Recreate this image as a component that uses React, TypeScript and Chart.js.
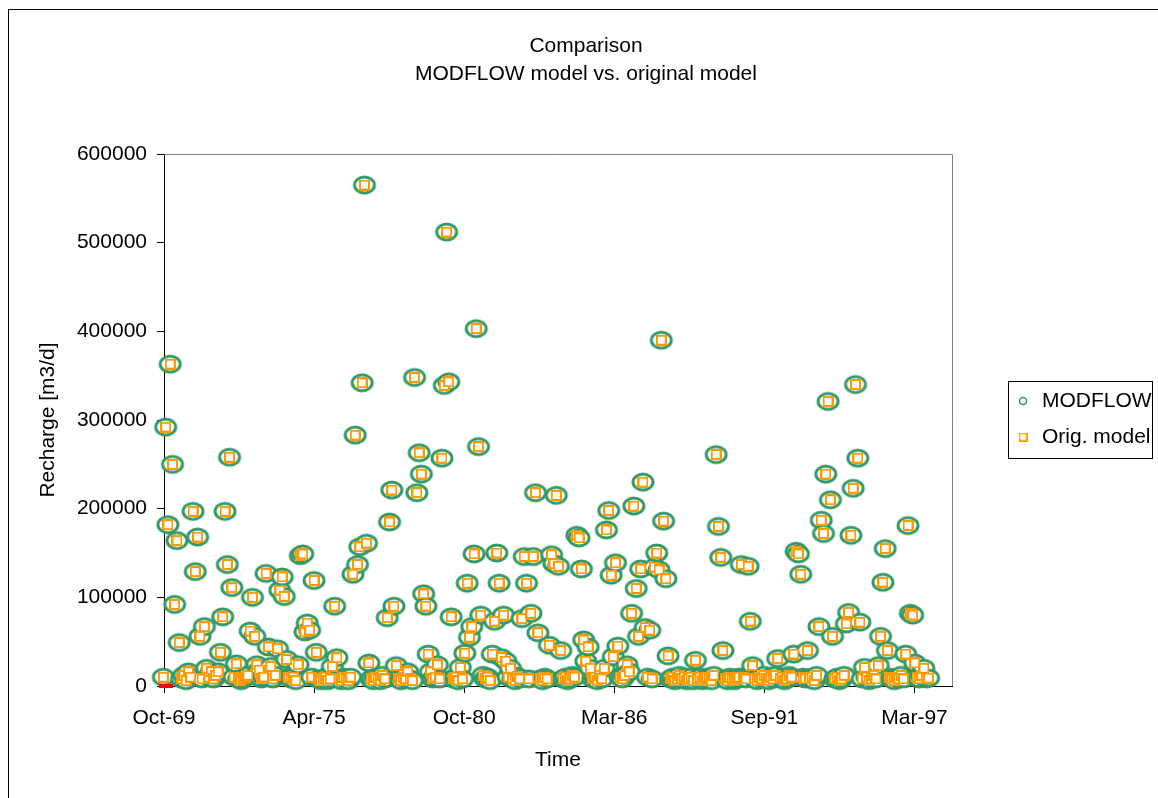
import React, { useEffect, useRef } from 'react';
import { Chart, registerables } from 'chart.js';

Chart.register(...registerables);

// Monthly recharge series, first value is October 1969 (thousand m3/d)
const FIRST_YEAR = 1969;
const FIRST_MONTH = 10;

const modflowKm3d = [
  10, 292, 182, 363, 250, 92, 164, 49, 8, 12, 6, 16,
  10, 197, 129, 168, 56, 8, 67, 20, 10, 16, 8, 12,
  16, 38, 78, 197, 137, 258, 111, 10, 25, 8, 6, 8,
  10, 12, 62, 100, 56, 24, 18, 8, 10, 127, 44, 22,
  8, 12, 42, 108, 123, 101, 30, 10, 8, 10, 6, 24,
  147, 149, 61, 71, 63, 10, 119, 38, 8, 6, 8, 10,
  6, 8, 22, 90, 32, 8, 6, 10, 8, 6, 10, 126,
  283, 137, 157, 342, 565, 161, 26, 8, 6, 10, 8, 6,
  12, 8, 77, 185, 221, 90, 23, 8, 6, 10, 8, 16,
  8, 6, 348, 218, 263, 239, 104, 90, 36, 16, 8, 10,
  24, 8, 257, 339, 512, 343, 78, 8, 10, 6, 21, 8,
  37, 116, 55, 67, 149, 403, 270, 80, 12, 8, 10, 6,
  36, 73, 150, 116, 32, 80, 28, 10, 20, 8, 6, 11,
  8, 76, 146, 116, 8, 82, 146, 218, 60, 8, 6, 10,
  8, 46, 148, 138, 215, 135, 40, 8, 10, 6, 8, 12,
  10, 170, 167, 132, 52, 28, 44, 20, 8, 10, 6, 12,
  8, 20, 176, 198, 125, 33, 139, 45, 10, 8, 12, 24,
  16, 82, 203, 110, 56, 132, 230, 66, 10, 63, 8, 134,
  150, 131, 390, 186, 121, 34, 8, 10, 6, 8, 12, 8,
  10, 6, 8, 10, 6, 29, 8, 10, 6, 8, 10, 8,
  6, 12, 261, 180, 145, 40, 8, 6, 10, 8, 6, 8,
  10, 137, 10, 8, 135, 73, 23, 8, 6, 10, 8, 12,
  8, 6, 10, 8, 12, 31, 8, 10, 6, 8, 12, 10,
  36, 152, 149, 126, 10, 8, 40, 8, 10, 6, 12, 67,
  187, 172, 239, 321, 210, 56, 8, 10, 6, 8, 12, 70,
  83, 170, 223, 340, 257, 72, 8, 21, 10, 6, 8, 12,
  8, 23, 56, 117, 155, 40, 10, 8, 6, 10, 8, 12,
  8, 36, 181, 82, 80, 26, 10, 8, 12, 20, 8, 9,
];

// The original model reproduces the MODFLOW recharge month for month
const origModelKm3d = modflowKm3d.slice();

// Short red stub lying on the zero line at the start of the record (day serials)
const zeroStubSerials = [25433, 25620];

// Axis ticks (day serials counted from 1899-12-30)
const xTickSerials = [25500, 27500, 29500, 31500, 33500, 35500];
const xTickLabels = ['Oct-69', 'Apr-75', 'Oct-80', 'Mar-86', 'Sep-91', 'Mar-97'];
const yTickValues = [0, 100000, 200000, 300000, 400000, 500000, 600000];

const titleLines = ['Comparison', 'MODFLOW model vs. original model'];
const seriesNames = ['MODFLOW', 'Orig. model'];

const FONT = '"Liberation Sans", Arial, sans-serif';
const GREEN = '#339966';
const ORANGE = '#ff9900';

const EPOCH = Date.UTC(1899, 11, 30);
const monthSerial = (i: number) =>
  (Date.UTC(FIRST_YEAR, FIRST_MONTH - 1 + i, 15) - EPOCH) / 86400000;

function ellipseMarker(w: number, h: number, rx: number, ry: number, lw: number) {
  const c = document.createElement('canvas');
  c.width = w;
  c.height = h;
  const g = c.getContext('2d')!;
  g.beginPath();
  g.ellipse(w / 2, h / 2, rx, ry, 0, 0, Math.PI * 2);
  g.fillStyle = '#ffffff';
  g.fill();
  g.lineWidth = lw;
  g.strokeStyle = GREEN;
  g.stroke();
  return c;
}

function squareMarker(size: number, lw: number) {
  const c = document.createElement('canvas');
  c.width = size;
  c.height = size;
  const g = c.getContext('2d')!;
  g.fillStyle = '#ffffff';
  g.fillRect(lw / 2, lw / 2, size - lw, size - lw);
  g.lineWidth = lw;
  g.strokeStyle = ORANGE;
  g.strokeRect(lw / 2, lw / 2, size - lw, size - lw);
  return c;
}

export default function App() {
  const canvasRef = useRef<HTMLCanvasElement | null>(null);

  useEffect(() => {
    const canvas = canvasRef.current;
    if (!canvas) return;

    const circleImg = ellipseMarker(26, 22, 10, 8, 3);
    const squareImg = squareMarker(11, 2);
    const legendCircle = ellipseMarker(10, 10, 3.5, 3.5, 1.6);
    const legendSquare = squareMarker(9, 1.6);

    const decorations = {
      id: 'decorations',
      beforeDraw(chart: any) {
        const { ctx, width, height } = chart;
        ctx.save();
        ctx.fillStyle = '#ffffff';
        ctx.fillRect(0, 0, width, height);
        ctx.strokeStyle = '#000000';
        ctx.lineWidth = 1;
        ctx.strokeRect(8.5, 9.5, width + 10, height + 10);
        ctx.fillStyle = '#000000';
        ctx.font = `21px ${FONT}`;
        ctx.textAlign = 'center';
        ctx.textBaseline = 'middle';
        ctx.fillText(titleLines[0], 586, 46);
        ctx.fillText(titleLines[1], 586, 74);
        ctx.restore();
      },
      beforeDatasetsDraw(chart: any) {
        const { ctx, chartArea } = chart;
        ctx.save();
        ctx.strokeStyle = '#808080';
        ctx.lineWidth = 1;
        ctx.beginPath();
        ctx.moveTo(chartArea.left, chartArea.top + 0.5);
        ctx.lineTo(chartArea.right + 0.5, chartArea.top + 0.5);
        ctx.lineTo(chartArea.right + 0.5, chartArea.bottom);
        ctx.stroke();
        ctx.restore();
      },
      afterDraw(chart: any) {
        const { ctx } = chart;
        ctx.save();
        ctx.strokeStyle = '#000000';
        ctx.lineWidth = 1;
        ctx.strokeRect(1008.5, 381.5, 144, 77);
        ctx.drawImage(legendCircle, 1023 - 5, 401 - 5);
        ctx.drawImage(legendSquare, 1023 - 4.5, 437 - 4.5);
        ctx.fillStyle = '#000000';
        ctx.font = `21px ${FONT}`;
        ctx.textAlign = 'left';
        ctx.textBaseline = 'middle';
        ctx.fillText(seriesNames[0], 1042, 401);
        ctx.fillText(seriesNames[1], 1042, 437);
        ctx.restore();
      },
    };

    const chart = new Chart(canvas, {
      type: 'scatter',
      data: {
        datasets: [
          {
            type: 'line',
            label: 'zero',
            data: zeroStubSerials.map((x) => ({ x, y: 0 })),
            borderColor: '#ff0000',
            borderWidth: 4,
            pointRadius: 0,
            clip: false,
          } as any,
          {
            label: seriesNames[1],
            data: origModelKm3d.map((v, i) => ({ x: monthSerial(i), y: v * 1000 })),
            pointStyle: squareImg,
            pointRadius: 5,
            clip: false,
          },
          {
            label: seriesNames[0],
            data: modflowKm3d.map((v, i) => ({ x: monthSerial(i), y: v * 1000 })),
            pointStyle: circleImg,
            pointRadius: 10,
            clip: false,
          },
        ],
      },
      options: {
        responsive: false,
        animation: false,
        devicePixelRatio: 1,
        layout: { padding: { top: 154, right: 206, left: 0, bottom: 0 } },
        plugins: {
          legend: { display: false },
          tooltip: { enabled: false },
          title: { display: false },
        },
        scales: {
          x: {
            type: 'linear',
            min: 25500,
            max: 36000,
            afterBuildTicks: (scale: any) => {
              scale.ticks = xTickSerials.map((value) => ({ value }));
            },
            afterFit: (scale: any) => {
              scale.height = 112;
            },
            ticks: {
              autoSkip: false,
              maxRotation: 0,
              color: '#000000',
              font: { family: FONT, size: 21 },
              padding: 13,
              callback: (_v: any, index: number) => xTickLabels[index],
            },
            grid: {
              drawOnChartArea: false,
              tickLength: 7,
              tickColor: '#000000',
            },
            border: { color: '#000000', width: 1 },
            title: {
              display: true,
              text: 'Time',
              color: '#000000',
              font: { family: FONT, size: 21 },
              padding: { top: 0, bottom: 25 },
            },
          },
          y: {
            min: 0,
            max: 600000,
            afterBuildTicks: (scale: any) => {
              scale.ticks = yTickValues.map((value) => ({ value }));
            },
            afterFit: (scale: any) => {
              scale.width = 164;
            },
            ticks: {
              color: '#000000',
              font: { family: FONT, size: 21 },
              padding: 10,
              callback: (v: any) => String(v),
            },
            grid: {
              drawOnChartArea: false,
              tickLength: 7,
              tickColor: '#000000',
            },
            border: { color: '#000000', width: 1 },
            title: {
              display: true,
              text: 'Recharge [m3/d]',
              color: '#000000',
              font: { family: FONT, size: 21 },
              padding: { top: 36, bottom: 0 },
            },
          },
        },
      },
      plugins: [decorations],
    });

    return () => chart.destroy();
  }, []);

  return (
    <div style={{ position: 'absolute', left: 0, top: 0, width: 1158, height: 798, overflow: 'hidden' }}>
      <canvas ref={canvasRef} width={1158} height={798} />
    </div>
  );
}
